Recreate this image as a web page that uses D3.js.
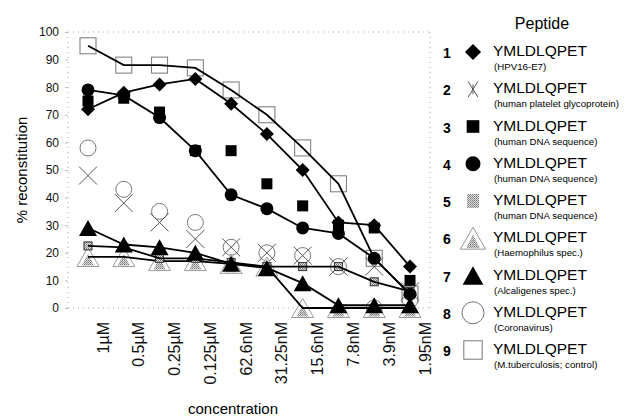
<!DOCTYPE html>
<html>
<head>
<meta charset="utf-8">
<script src="https://cdn.jsdelivr.net/npm/d3@7"></script>
<style>
  body { margin: 0; background: #fff; }
  svg { font-family: "Liberation Sans", Arial, sans-serif; }
</style>
</head>
<body>
<div id="chart"></div>
<script>
// concentrations along the x axis
var concentrations = ["1\u00b5M", "0.5\u00b5M", "0.25\u00b5M", "0.125\u00b5M", "62.6nM", "31.25nM", "15.6nM", "7.8nM", "3.9nM", "1.95nM"];
var yTicks = [0, 10, 20, 30, 40, 50, 60, 70, 80, 90, 100];

// % reconstitution, one array per peptide
var pep1 = [72, 78, 81, 83, 74, 63, 50, 31, 30, 15];
var pep2 = [48, 38, 31, 25, 22, 20, 19, 15, 15, 6];
var pep3 = [75, 76, 71, 57, 57, 45, 37, 30, 29, 10];
var pep4 = [79, 77, 69, 57, 41, 36, 29, 27, 18, 5];
var pep5 = [22.5, 22, 18, 18, 16.5, 15, 15, 15, 9.5, 6];
var pep6 = [18.5, 18.5, 17, 17, 16, 15, 0, 0, 0, 0];
var pep7 = [29, 23, 22, 20, 16, 14.5, 9, 1, 1, 1];
var pep8 = [58, 43, 35, 31, 22, 20, 19, 15, 0, 3];
var pep9 = [95, 88, 88, 87, 79, 70, 58, 45, 18, 5];

var legendNames = ["(HPV16-E7)", "(human platelet glycoprotein)", "(human DNA sequence)", "(human DNA sequence)",
  "(human DNA sequence)", "(Haemophilus spec.)", "(Alcaligenes spec.)", "(Coronavirus)", "(M.tuberculosis; control)"];
var peptideSeq = "YMLDLQPET";

var width = 639, height = 419;
var svg = d3.select('#chart').append('svg')
  .attr('width', width)
  .attr('height', height);

var defs = svg.append('defs');
var pat = defs.append('pattern')
  .attr('id', 'stipple')
  .attr('width', 2).attr('height', 2)
  .attr('patternUnits', 'userSpaceOnUse');
pat.append('rect').attr('width', 2).attr('height', 2).attr('fill', '#ddd');
pat.append('rect').attr('width', 1).attr('height', 1).attr('fill', '#777');
pat.append('rect').attr('x', 1).attr('y', 1).attr('width', 1).attr('height', 1).attr('fill', '#999');

var plot = {left: 68, right: 430, top: 32, bottom: 308};

var x = d3.scalePoint()
  .domain(concentrations)
  .range([88, 410]);

var y = d3.scaleLinear()
  .domain([0, 100])
  .range([plot.bottom, plot.top]);

// dotted frame
var frame = svg.append('g').attr('class', 'frame')
  .style('stroke', '#aaa')
  .style('stroke-width', 1)
  .style('stroke-dasharray', '1,4');
frame.append('line').attr('x1', plot.left).attr('x2', plot.right).attr('y1', plot.top).attr('y2', plot.top);
frame.append('line').attr('x1', plot.left).attr('x2', plot.right).attr('y1', plot.bottom).attr('y2', plot.bottom);
frame.append('line').attr('x1', plot.left).attr('x2', plot.left).attr('y1', plot.top).attr('y2', plot.bottom);
frame.append('line').attr('x1', plot.right).attr('x2', plot.right).attr('y1', plot.top).attr('y2', plot.bottom);

// y axis labels
var yAxis = svg.append('g')
  .attr('transform', 'translate(' + plot.left + ',0)')
  .call(d3.axisLeft(y).tickValues(yTicks).tickSize(3).tickPadding(6));
yAxis.select('.domain').remove();
yAxis.selectAll('line').style('stroke', '#bbb');
yAxis.selectAll('text').style('font-size', '12px').style('fill', '#111');

// x axis labels, rotated
var xAxis = svg.append('g')
  .attr('transform', 'translate(0,' + plot.bottom + ')')
  .call(d3.axisBottom(x).tickSize(0));
xAxis.select('.domain').remove();
xAxis.selectAll('text')
  .attr('transform', 'rotate(-90)')
  .attr('x', -14)
  .attr('y', 20)
  .attr('dy', 0)
  .style('text-anchor', 'end')
  .style('font-size', '16px')
  .style('fill', '#111');

svg.append('text')
  .text('concentration')
  .attr('x', 233).attr('y', 414)
  .style('text-anchor', 'middle')
  .style('font-size', '15px');

svg.append('text')
  .text('% reconstitution')
  .attr('transform', 'translate(27,170) rotate(-90)')
  .style('text-anchor', 'middle')
  .style('font-size', '15px');

// marker painters: (g, cx, cy, scale, legend)
function diamond(g, cx, cy, s) {
  var r = 7 * s;
  g.append('path').attr('d', 'M' + cx + ',' + (cy - r) + 'L' + (cx + r) + ',' + cy + 'L' + cx + ',' + (cy + r) + 'L' + (cx - r) + ',' + cy + 'Z')
    .style('fill', '#000');
}
function cross(g, cx, cy, s, legend) {
  var rx = legend ? 5 : 9, ry = legend ? 8 : 9;
  g.append('path').attr('d', 'M' + (cx - rx) + ',' + (cy - ry) + 'L' + (cx + rx) + ',' + (cy + ry) + 'M' + (cx + rx) + ',' + (cy - ry) + 'L' + (cx - rx) + ',' + (cy + ry)
    + (legend ? 'M' + cx + ',' + (cy - ry * 0.6) + 'L' + cx + ',' + (cy + ry * 0.6) : ''))
    .style('stroke', '#555').style('stroke-width', 1).style('fill', 'none');
}
function square(g, cx, cy, s) {
  var r = 5.5 * s;
  g.append('rect').attr('x', cx - r).attr('y', cy - r).attr('width', 2 * r).attr('height', 2 * r).style('fill', '#000');
}
function dot(g, cx, cy, s) {
  g.append('circle').attr('cx', cx).attr('cy', cy).attr('r', 6.5 * s).style('fill', '#000');
}
function stippleSquare(g, cx, cy, s, legend) {
  var r = legend ? 6 : 4;
  g.append('rect').attr('x', cx - r).attr('y', cy - r - (legend ? 1 : 0)).attr('width', 2 * r).attr('height', 2 * r + (legend ? 2 : 0))
    .style('fill', 'url(#stipple)').style('stroke', legend ? 'none' : '#333').style('stroke-width', 1);
}
function stippleTriangle(g, cx, cy, s) {
  var w = 11 * s, h = 19 * s;
  g.append('path').attr('d', 'M' + cx + ',' + (cy - h / 2) + 'L' + (cx + w) + ',' + (cy + h / 2) + 'L' + (cx - w) + ',' + (cy + h / 2) + 'Z')
    .style('fill', '#fff').style('stroke', '#999').style('stroke-width', 1);
  g.append('path').attr('d', 'M' + cx + ',' + (cy - h / 6) + 'L' + (cx + w * 0.55) + ',' + (cy + h / 2 - 1) + 'L' + (cx - w * 0.55) + ',' + (cy + h / 2 - 1) + 'Z')
    .style('fill', 'url(#stipple)');
}
function triangle(g, cx, cy, s) {
  var w = 9 * s, h = 16 * s;
  g.append('path').attr('d', 'M' + cx + ',' + (cy - h / 2) + 'L' + (cx + w) + ',' + (cy + h / 2) + 'L' + (cx - w) + ',' + (cy + h / 2) + 'Z')
    .style('fill', '#000');
}
function ring(g, cx, cy, s, legend) {
  g.append('circle').attr('cx', cx).attr('cy', cy).attr('r', legend ? 11 : 8)
    .style('fill', '#fff').style('stroke', '#777').style('stroke-width', 1);
}
function openSquare(g, cx, cy, s) {
  var r = 8 * s;
  g.append('rect').attr('x', cx - r).attr('y', cy - r).attr('width', 2 * r).attr('height', 2 * r)
    .style('fill', 'none').style('stroke', '#777').style('stroke-width', 1);
}

var series = [
  {values: pep1, marker: diamond, line: true},
  {values: pep2, marker: cross, line: false},
  {values: pep3, marker: square, line: false},
  {values: pep4, marker: dot, line: true},
  {values: pep5, marker: stippleSquare, line: true},
  {values: pep6, marker: stippleTriangle, line: true},
  {values: pep7, marker: triangle, line: true},
  {values: pep8, marker: ring, line: false},
  {values: pep9, marker: openSquare, line: true}
];

var lineGen = d3.line()
  .x(function(d, i) { return x(concentrations[i]); })
  .y(function(d) { return y(d); });

// draw order: open / light markers first, dark ones on top
var order = [8, 7, 1, 5, 4, 6, 3, 2, 0];
order.forEach(function(k) {
  var s = series[k];
  var g = svg.append('g').attr('class', 'series-' + (k + 1));
  s.values.forEach(function(v, i) {
    s.marker(g, x(concentrations[i]), y(v), 1, false);
  });
  if (s.line) {
    g.append('path')
      .datum(s.values)
      .attr('d', lineGen)
      .style('fill', 'none')
      .style('stroke', '#000')
      .style('stroke-width', 1.8);
  }
});

// legend
svg.append('text')
  .text('Peptide')
  .attr('x', 542).attr('y', 29)
  .style('text-anchor', 'middle')
  .style('font-size', '16px');

var legend = svg.append('g').attr('class', 'legend');
series.forEach(function(s, k) {
  var cy = 53 + k * 37.25;
  legend.append('text')
    .text(k + 1)
    .attr('x', 447).attr('y', cy + 5)
    .style('text-anchor', 'middle')
    .style('font-size', '14px')
    .style('font-weight', 'bold');
  s.marker(legend, 473, cy - 1, 1.15, true);
  legend.append('text')
    .text(peptideSeq)
    .attr('x', 493).attr('y', cy + 3)
    .style('font-size', '15.5px');
  legend.append('text')
    .text(legendNames[k])
    .attr('x', 494).attr('y', cy + 17)
    .style('font-size', '9.7px');
});
</script>
</body>
</html>
